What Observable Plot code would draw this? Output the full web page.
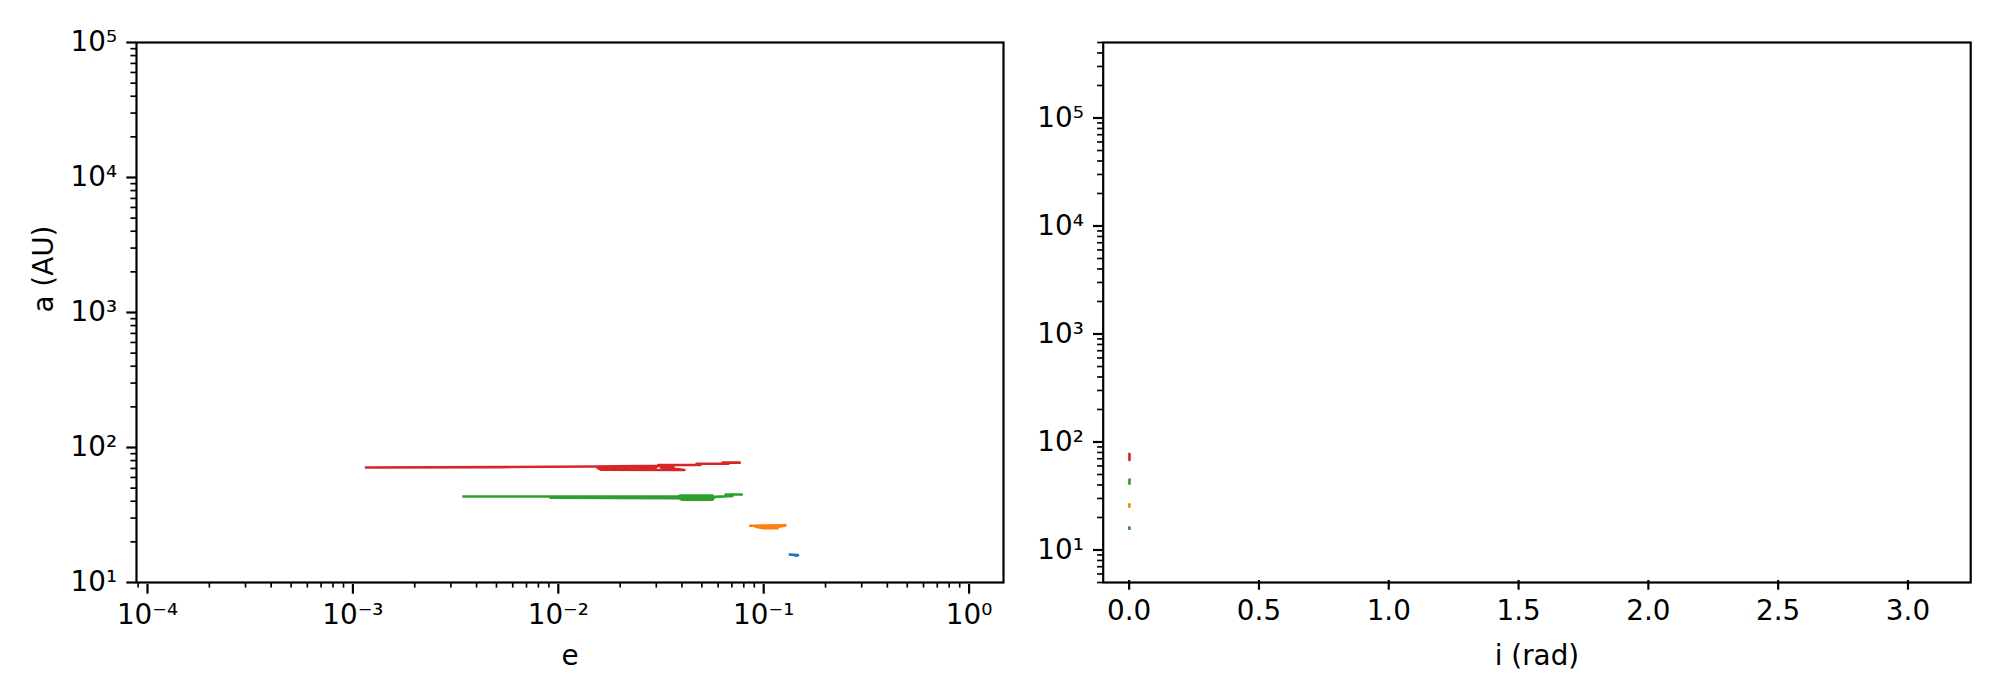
<!DOCTYPE html>
<html><head><meta charset="utf-8">
<script src="https://cdn.jsdelivr.net/npm/d3@7"></script>
<script src="https://cdn.jsdelivr.net/npm/@observablehq/plot@0.6"></script>
<style>
body{margin:0;background:#fff}
#wrap{position:relative;width:2000px;height:700px;background:#fff}
#left,#right{position:absolute;top:0}
</style>
</head><body>
<div id="wrap"><div id="left" style="left:0"></div><div id="right" style="left:1030px"></div></div>
<script>
// ---- data ----
const bodyNames = ["body 1", "body 2", "body 3", "body 4"];
const colors = ["#1f77b4", "#ff7f0e", "#2ca02c", "#d62728"];

// body 1 (blue)
const e1 = [0.1343, 0.1469, 0.1395, 0.1440];
const a1 = [16.1, 15.95, 16.0, 15.8];
const i1 = [0.0008, 0.0012, 0.0010, 0.0011];

// body 2 (orange)
const e2 = [0.0862, 0.1277, 0.1181, 0.0912, 0.0998, 0.1167];
const a2 = [26.3, 26.5, 25.9, 25.9, 25.2, 25.2];
const i2 = [0.0010, 0.0014, 0.0012, 0.0011, 0.0013, 0.0012];

// body 3 (green)
const e3 = [0.00346, 0.0385, 0.0393, 0.0563, 0.0551, 0.00916, 0.0385, 0.0402, 0.0563, 0.0576, 0.0705, 0.0652, 0.0780];
const a3 = [43.4, 43.4, 44.1, 44.1, 42.5, 42.4, 42.2, 41.0, 41.0, 43.1, 43.7, 44.9, 44.9];
const i3 = [0.0010, 0.0012, 0.0015, 0.0011, 0.0014, 0.0012, 0.0013, 0.0010, 0.0012, 0.0013, 0.0014, 0.0011, 0.0013];

// body 4 (red)
const e4 = [0.00116, 0.00523, 0.0152, 0.0307, 0.0297, 0.0155, 0.0161, 0.0411, 0.0315, 0.0364, 0.0307, 0.0492, 0.0471, 0.0674, 0.0630, 0.0762];
const a4 = [71.1, 71.6, 72.3, 73.3, 70.9, 70.9, 68.4, 68.1, 71.6, 71.6, 74.2, 74.2, 75.7, 75.7, 77.2, 77.2];
const i4 = [0.0010, 0.0012, 0.0014, 0.0011, 0.0015, 0.0012, 0.0013, 0.0010, 0.0014, 0.0012, 0.0011, 0.0013, 0.0015, 0.0012, 0.0014, 0.0011];

// tick values and labels
const eMajorTicks = [1e-4, 1e-3, 1e-2, 1e-1, 1];
const eTickLabels = ["10\u207B\u2074", "10\u207B\u00B3", "10\u207B\u00B2", "10\u207B\u00B9", "10\u2070"];
const aMajorTicks = [10, 100, 1000, 10000, 100000];
const aTickLabels = ["10\u00B9", "10\u00B2", "10\u00B3", "10\u2074", "10\u2075"];
const iTicks = [0, 0.5, 1, 1.5, 2, 2.5, 3];
const iTickLabels = ["0.0", "0.5", "1.0", "1.5", "2.0", "2.5", "3.0"];

// ---- build ----
function rows(name, e, a, inc) { return e.map((v, k) => ({body: name, e: v, a: a[k], i: inc[k]})); }
const data = [
  ...rows(bodyNames[0], e1, a1, i1),
  ...rows(bodyNames[1], e2, a2, i2),
  ...rows(bodyNames[2], e3, a3, i3),
  ...rows(bodyNames[3], e4, a4, i4)
];

function minors(lo, hi, dom) {
  const out = [];
  for (let p = lo; p <= hi; p++) for (let m = 2; m <= 9; m++) {
    const v = +(m * Math.pow(10, p)).toPrecision(6);
    if (v >= dom[0] && v <= dom[1]) out.push(v);
  }
  return out;
}

const FONT = "DejaVu Sans";
const FS = 27.8;
const MAJ = 9.7, MIN = 5.6, PAD = 9.7;

const eDom = [Math.pow(10, -4.0536), Math.pow(10, 0.1675)];
const aDomL = [10, 1e5];
const aDomR = [5, 5e5];
const iDom = [-0.1, Math.PI + 0.1];

const lineOpts = {z: "body", stroke: "body", strokeWidth: 2.6, strokeLinejoin: "round", strokeLinecap: "square"};
const colorScale = {domain: bodyNames, range: colors};

const left = Plot.plot({
  width: 1030, height: 700,
  marginLeft: 136, marginRight: 27, marginTop: 42, marginBottom: 118,
  style: {fontFamily: FONT, fontSize: FS + "px", color: "black", background: "white", overflow: "visible"},
  x: {type: "log", domain: eDom, label: null},
  y: {type: "log", domain: aDomL, label: null},
  color: colorScale,
  marks: [
    Plot.line(data, {x: "e", y: "a", ...lineOpts}),
    Plot.axisX(minors(-5, 0, eDom), {anchor: "bottom", tickSize: MIN, strokeWidth: 1.67, tickFormat: () => "", label: null}),
    Plot.axisX(eMajorTicks, {anchor: "bottom", tickSize: MAJ, tickPadding: PAD, strokeWidth: 2.2, tickFormat: d => eTickLabels[eMajorTicks.indexOf(d)], label: null, fontSize: FS, dy: 2}),
    Plot.axisY(minors(1, 4, aDomL), {anchor: "left", tickSize: MIN, strokeWidth: 1.67, tickFormat: () => "", label: null}),
    Plot.axisY(aMajorTicks, {anchor: "left", tickSize: MAJ, tickPadding: PAD, strokeWidth: 2.2, tickFormat: d => aTickLabels[aMajorTicks.indexOf(d)], label: null, fontSize: FS}),
    Plot.text(["e"], {frameAnchor: "bottom", text: d => d, dy: 82, fontSize: FS, fill: "black"}),
    Plot.text(["a (AU)"], {frameAnchor: "left", text: d => d, dx: -92, rotate: -90, fontSize: FS, fill: "black"}),
    Plot.frame({stroke: "black", strokeWidth: 2.2})
  ]
});

const right = Plot.plot({
  width: 970, height: 700,
  marginLeft: 72.7, marginRight: 29.8, marginTop: 42, marginBottom: 118,
  style: {fontFamily: FONT, fontSize: FS + "px", color: "black", background: "white", overflow: "visible"},
  x: {type: "linear", domain: iDom, label: null},
  y: {type: "log", domain: aDomR, label: null},
  color: colorScale,
  marks: [
    Plot.line(data, {x: "i", y: "a", ...lineOpts}),
    Plot.axisX(iTicks, {anchor: "bottom", tickSize: MAJ, tickPadding: PAD, strokeWidth: 2.2, tickFormat: d => iTickLabels[iTicks.indexOf(d)], label: null, fontSize: FS, dy: -2}),
    Plot.axisY(minors(0, 5, aDomR), {anchor: "left", tickSize: MIN, strokeWidth: 1.67, tickFormat: () => "", label: null}),
    Plot.axisY(aMajorTicks, {anchor: "left", tickSize: MAJ, tickPadding: PAD, strokeWidth: 2.2, tickFormat: d => aTickLabels[aMajorTicks.indexOf(d)], label: null, fontSize: FS}),
    Plot.text(["i (rad)"], {frameAnchor: "bottom", text: d => d, dy: 82, fontSize: FS, fill: "black"}),
    Plot.frame({stroke: "black", strokeWidth: 2.2})
  ]
});

document.getElementById("left").appendChild(left);
document.getElementById("right").appendChild(right);
</script>
</body></html>
